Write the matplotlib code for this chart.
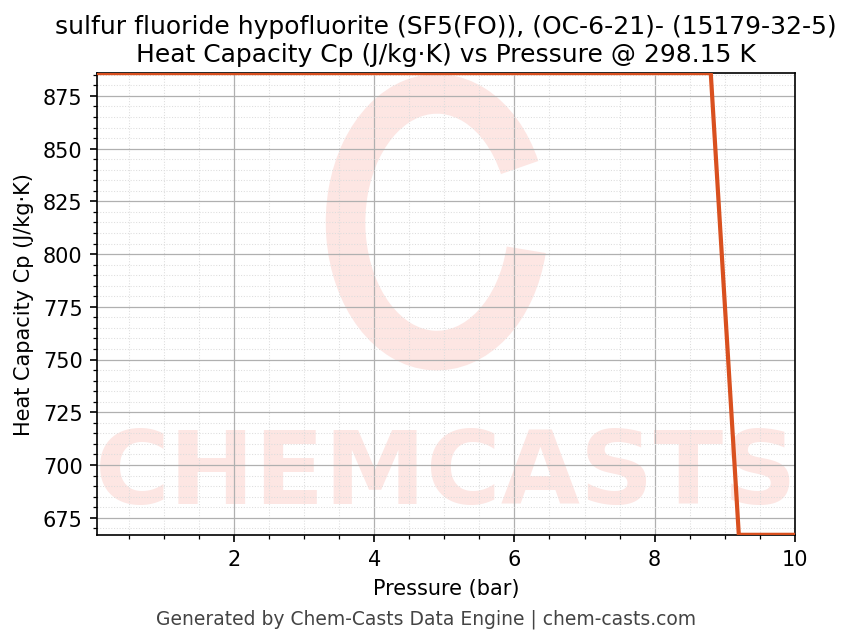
import matplotlib
matplotlib.use("Agg")
import matplotlib.pyplot as plt
from matplotlib.patches import Arc

# Pressure (bar) and heat capacity Cp (J/kg·K)
pressure = [0.05, 8.8, 9.2, 10.0]
cp = [885.8, 885.8, 666.9, 666.9]

title = ("sulfur fluoride hypofluorite (SF5(FO)), (OC-6-21)- (15179-32-5)\n"
         "Heat Capacity Cp (J/kg·K) vs Pressure @ 298.15 K")


def main():
    fig = plt.figure(figsize=(5.68, 4.293), dpi=150)
    ax = fig.add_axes([0.114, 0.168, 0.819, 0.717])

    # watermark: ring logo and big brand text, clipped to the axes
    ring = Arc((0.487, 0.677), 0.262, 0.556, theta1=45, theta2=335,
               transform=ax.transAxes, color="#fde6e3", linewidth=19, zorder=0)
    ax.add_patch(ring)
    ax.text(0.5, 0.13, "CHEMCASTS", transform=ax.transAxes, ha="center",
            va="center", fontsize=49, fontweight="bold", color="#fde6e3",
            zorder=0, clip_on=True)

    ax.plot(pressure, cp, color="#d9501f", linewidth=2, zorder=3)

    ax.set_xlim(pressure[0], pressure[-1])
    ax.set_ylim(min(cp), max(cp))
    ax.minorticks_on()
    ax.grid(which="major", color="#b0b0b0", linewidth=0.6)
    ax.grid(which="minor", color="#dddddd", linestyle=":", linewidth=0.5)

    ax.set_xlabel("Pressure (bar)")
    ax.set_ylabel("Heat Capacity Cp (J/kg·K)")
    ax.set_title(title)
    fig.text(0.5, 0.03, "Generated by Chem-Casts Data Engine | chem-casts.com",
             ha="center", fontsize=9, color="#444444")

    fig.savefig("out.png", dpi=150)


if __name__ == "__main__":
    main()
